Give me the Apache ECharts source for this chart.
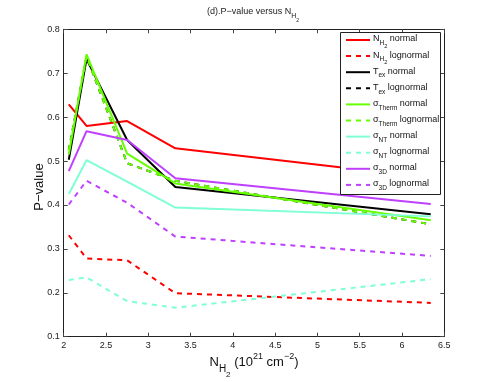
<!DOCTYPE html>
<html>
<head>
<meta charset="utf-8">
<script src="https://cdn.jsdelivr.net/npm/echarts@6/dist/echarts.min.js"></script>
<style>
  html, body { margin: 0; padding: 0; background: #fff; }
  #chart { width: 491px; height: 382px; }
</style>
</head>
<body>
<div id="chart"></div>
<script>
// N_H2 positions of the five samples (10^21 cm^-2)
var xVals = [2.06, 2.27, 2.75, 3.32, 6.34]
var xTicks = [2, 2.5, 3, 3.5, 4, 4.5, 5, 5.5, 6, 6.5]
var yTicks = [0.1, 0.2, 0.3, 0.4, 0.5, 0.6, 0.7, 0.8]

// P-values
var nh2Normal = [0.629, 0.580, 0.591, 0.529, 0.462]
var nh2Lognormal = [0.331, 0.278, 0.274, 0.199, 0.177]
var texNormal = [0.503, 0.732, 0.548, 0.441, 0.379]
// T_ex lognormal is not visible: it sits under the sigma_Therm lognormal curve
var texLognormal = [0.525, 0.738, 0.495, 0.455, 0.356]
var thermNormal = [0.515, 0.743, 0.517, 0.449, 0.365]
var thermLognormal = [0.525, 0.738, 0.495, 0.455, 0.356]
var ntNormal = [0.425, 0.502, 0.453, 0.394, 0.374]
var ntLognormal = [0.229, 0.235, 0.181, 0.166, 0.231]
var d3Normal = [0.477, 0.568, 0.548, 0.461, 0.402]
var d3Lognormal = [0.401, 0.455, 0.405, 0.328, 0.284]

var seriesNames = ['nh2N', 'nh2L', 'texN', 'texL', 'thN', 'thL', 'ntN', 'ntL', 'd3N', 'd3L']
var seriesValues = [nh2Normal, nh2Lognormal, texNormal, texLognormal, thermNormal, thermLognormal, ntNormal, ntLognormal, d3Normal, d3Lognormal]
var seriesColors = ['#ff0000', '#ff0000', '#000000', '#000000', '#66ff00', '#66ff00', '#7fffd4', '#7fffd4', '#bf40ff', '#bf40ff']
// legend labels, rich text for subscripts
var legendLabels = {
  nh2N: '{b|N}{s|H}{ss|2}{b| normal}',
  nh2L: '{b|N}{s|H}{ss|2}{b| lognormal}',
  texN: '{b|T}{s|ex}{b| normal}',
  texL: '{b|T}{s|ex}{b| lognormal}',
  thN: '{b|σ}{s|Therm}{b| normal}',
  thL: '{b|σ}{s|Therm}{b| lognormal}',
  ntN: '{b|σ}{s|NT}{b| normal}',
  ntL: '{b|σ}{s|NT}{b| lognormal}',
  d3N: '{b|σ}{s|3D}{b| normal}',
  d3L: '{b|σ}{s|3D}{b| lognormal}'
}

var font = 'Liberation Sans, Arial, sans-serif'

var series = []
for (var i = 0; i < seriesNames.length; i++) {
  var pts = []
  for (var j = 0; j < xVals.length; j++) {
    pts.push([xVals[j], seriesValues[i][j]])
  }
  series.push({
    name: seriesNames[i],
    type: 'line',
    symbol: 'none',
    data: pts,
    color: seriesColors[i],
    lineStyle: {
      color: seriesColors[i],
      width: 2,
      type: i % 2 === 1 ? [5, 5] : 'solid'
    },
    xAxisIndex: 0,
    yAxisIndex: 0
  })
}

function boxAxis (pos, min, max, interval, showLabel) {
  return {
    type: 'value',
    position: pos,
    min: min,
    max: max,
    interval: interval,
    axisLine: { show: true, onZero: false, lineStyle: { color: '#222', width: 1 } },
    axisTick: { show: true, inside: true, length: 4, lineStyle: { color: '#444' } },
    splitLine: { show: false },
    axisLabel: {
      show: showLabel,
      margin: 4,
      fontSize: 9,
      fontFamily: font,
      color: '#222',
      formatter: function (v) {
        return interval < 0.5 ? v.toFixed(1) : String(v)
      }
    }
  }
}

// padding pushes a rich token down (top pad) or up (bottom pad) by half the pad
function tok (size, pad, col) {
  return { fontSize: size, padding: pad, verticalAlign: 'middle', fontFamily: font, color: col, fill: col }
}

// legend box, drawn by hand so the subscripted rows keep an even pitch
var legendBox = { x: 340.5, y: 32.5, w: 100, h: 162 }
var legendGraphics = [{
  type: 'rect',
  z: 10,
  shape: { x: legendBox.x, y: legendBox.y, width: legendBox.w, height: legendBox.h },
  style: { fill: '#fff', stroke: '#222', lineWidth: 1 }
}]
for (var k = 0; k < seriesNames.length; k++) {
  var rowY = 40 + k * 16.1
  legendGraphics.push({
    type: 'line',
    z: 11,
    shape: { x1: 346, y1: rowY, x2: 370, y2: rowY },
    style: { stroke: seriesColors[k], lineWidth: 2, lineDash: k % 2 === 1 ? [5, 5] : null }
  })
  legendGraphics.push({
    type: 'text',
    z: 11,
    x: 373,
    y: rowY - 1,
    style: {
      text: legendLabels[seriesNames[k]],
      align: 'left',
      verticalAlign: 'middle',
      rich: {
        b: tok(9, [0, 0, 0, 0], '#111'),
        s: tok(6.5, [9, 0, 0, 0], '#111'),
        ss: tok(5.5, [15, 0, 0, 0], '#111')
      }
    }
  })
}

var chart = echarts.init(document.getElementById('chart'), null, { renderer: 'canvas' })
var option = {
  animation: false,
  backgroundColor: '#fff',
  grid: { left: 63.7, right: 46.7, top: 29.3, bottom: 45.3, containLabel: false },
  xAxis: [
    boxAxis('bottom', xTicks[0], xTicks[xTicks.length - 1], 0.5, true),
    boxAxis('top', xTicks[0], xTicks[xTicks.length - 1], 0.5, false)
  ],
  yAxis: [
    boxAxis('left', yTicks[0], yTicks[yTicks.length - 1], 0.1, true),
    boxAxis('right', yTicks[0], yTicks[yTicks.length - 1], 0.1, false)
  ],
  graphic: legendGraphics.concat([
    {
      type: 'text',
      x: 253,
      y: 12,
      style: {
        text: '{b|(d).P−value versus N}{s|H}{ss|2}',
        align: 'center',
        verticalAlign: 'middle',
        rich: {
          b: tok(9, [0, 0, 0, 0], '#222'),
          s: tok(7, [8, 0, 0, 0], '#222'),
          ss: tok(5, [18, 0, 0, 0], '#222')
        }
      }
    },
    {
      type: 'text',
      x: 254,
      y: 362,
      style: {
        text: '{b|N}{s|H}{ss|2}{b| (10}{p|21}{b| cm}{p|−2}{b|)}',
        align: 'center',
        verticalAlign: 'middle',
        rich: {
          b: tok(13, [0, 0, 0, 0], '#111'),
          s: tok(10, [14, 0, 0, 0], '#111'),
          ss: tok(8, [26, 0, 0, 0], '#111'),
          p: tok(9, [0, 0, 10, 0], '#111')
        }
      }
    },
    {
      type: 'text',
      x: 39,
      y: 187,
      rotation: Math.PI / 2,
      style: {
        text: 'P−value',
        align: 'center',
        verticalAlign: 'middle',
        fontSize: 13,
        fontFamily: font,
        fill: '#111'
      }
    }
  ]),
  series: series
}
chart.setOption(option)
</script>
</body>
</html>
